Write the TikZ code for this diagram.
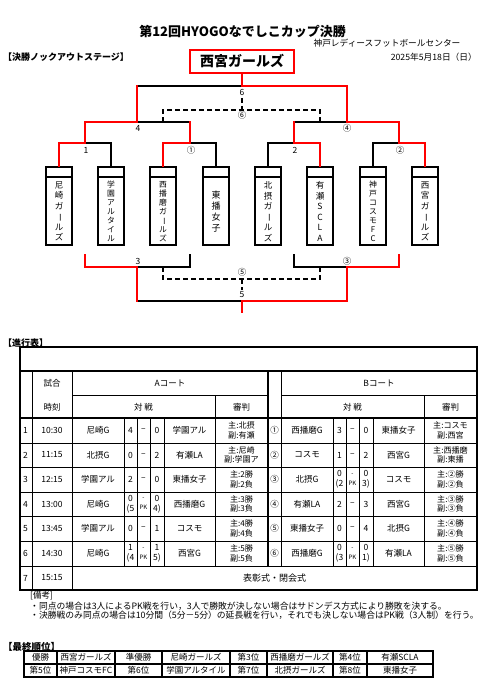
\documentclass[tikz,border=0pt]{standalone}
\usepackage{fontspec}
\setmainfont{Noto Sans CJK JP}
\usepackage{graphicx}
\usetikzlibrary{calc}
\newcommand\vbarj{\rotatebox[origin=c]{-90}{ー}}
\newcommand\pkf{\fontsize{6}{7}\selectfont}
% half row of the schedule table
\newcommand\half[9]{%
  \node[tc] (#1a) at (98+#2,#3) {#4};
  \node[tc] (#1b) at (130.5+#2,#3) {#5};
  \node[tc] (#1c) at (143.5+#2,#3) {#6};
  \node[tc] (#1d) at (157+#2,#3) {#7};
  \node[tc] (#1e) at (189.5+#2,#3) {#8};
  \node[rf] (#1f) at (241.5+#2,#3) {#9};
}
\begin{document}
\begin{tikzpicture}[x=1pt,y=-1pt,
  brk/.style={line width=2pt,line cap=rect,line join=miter},
  wl/.style={brk,red},
  ls/.style={brk,black},
  dsh/.style={line width=2pt,dash pattern=on 5pt off 3pt},
  teambox/.style={draw,line width=1.8pt,minimum width=26pt,minimum height=78pt,inner sep=0pt},
  tname/.style={inner sep=0pt,align=center},
  lbl/.style={inner sep=0pt,font=\fontsize{8.5}{10}\selectfont},
  tc/.style={inner sep=0pt,align=center,font=\fontsize{8.5}{10}\selectfont},
  rf/.style={inner sep=0pt,align=center,font=\fontsize{8.1}{9.3}\selectfont},
  tl/.style={line width=0.9pt},
  tk/.style={line width=1.8pt},
  txt/.style={inner sep=0pt,font=\fontsize{8.8}{10}\selectfont}
]
\useasboundingbox (0,0) rectangle (500,695);
\fill[white] (0,0) rectangle (500,695);

% ---------- heading ----------
\node[inner sep=0pt,font=\bfseries\fontsize{13}{16}\selectfont] (title) at (242.5,32) {第12回HYOGOなでしこカップ決勝};
\node[inner sep=0pt,font=\fontsize{8.7}{10}\selectfont] (venue) at (387,43) {神戸レディースフットボールセンター};
\node[inner sep=0pt,font=\fontsize{8.7}{10}\selectfont,anchor=east] (date) at (477,57) {2025年5月18日（日）};
\node[inner sep=0pt,font=\bfseries\fontsize{9}{10}\selectfont,anchor=west] (ko) at (3,57) {【決勝ノックアウトステージ】};
\node[draw=red,line width=2pt,minimum width=104pt,minimum height=23pt,inner sep=0pt,font=\bfseries\fontsize{14}{16}\selectfont] (champ) at (242,61.5) {西宮ガールズ};

% ---------- team boxes ----------
\foreach \i/\x in {1/59,2/111,3/163,4/216,5/268,6/320,7/373,8/425} {
  \node[teambox] (t\i) at (\x,206) {};
  \draw[line width=1.5pt] ([yshift=-11pt]t\i.north west) -- ([yshift=-11pt]t\i.north east);
}
\node[tname,font=\fontsize{8.5}{10.5}\selectfont] (n1) at (59,211.5) {尼\\崎\\ガ\\\vbarj\\ル\\ズ};
\node[tname,font=\fontsize{7.8}{9}\selectfont] (n2) at (111,211.5) {学\\園\\ア\\ル\\タ\\イ\\ル};
\node[tname,font=\fontsize{7.8}{9}\selectfont] (n3) at (163,211.5) {西\\播\\磨\\ガ\\\vbarj\\ル\\ズ};
\node[tname,font=\fontsize{9}{11}\selectfont] (n4) at (216,211.5) {東\\播\\女\\子};
\node[tname,font=\fontsize{8.5}{10.5}\selectfont] (n5) at (268,211.5) {北\\摂\\ガ\\\vbarj\\ル\\ズ};
\node[tname,font=\fontsize{8.5}{10.5}\selectfont] (n6) at (320,211.5) {有\\瀬\\S\\C\\L\\A};
\node[tname,font=\fontsize{7.8}{9}\selectfont] (n7) at (373,211.5) {神\\戸\\コ\\ス\\モ\\F\\C};
\node[tname,font=\fontsize{8.5}{10.5}\selectfont] (n8) at (425,211.5) {西\\宮\\ガ\\\vbarj\\ル\\ズ};

% ---------- bracket coordinates ----------
\coordinate (m1) at (85,143);
\coordinate (m1b) at (189.5,143);
\coordinate (m2) at (294,143);
\coordinate (m2b) at (399,143);
\coordinate (m4) at (137.25,122);
\coordinate (m4b) at (346.5,122);
\coordinate (m6) at (242,86);
\coordinate (d6) at (242,110);
\coordinate (d6t) at (242,98);
\coordinate (d6l) at (163.4,110);
\coordinate (d6r) at (320.25,110);
\coordinate (l1) at (85,255);
\coordinate (l1b) at (189.5,255);
\coordinate (l2) at (294,255);
\coordinate (l2b) at (399,255);
\coordinate (m3) at (137.25,267);
\coordinate (m3b) at (346.5,267);
\coordinate (m5) at (242,301);
\coordinate (d5) at (242,279);
\coordinate (d5b) at (242,290);
\coordinate (d5l) at (163.4,279);
\coordinate (d5r) at (320.25,279);
\coordinate (fin) at (242,312);

% black (losing) paths
\draw[ls] (t2.north) |- (m1);
\draw[ls] (t4.north) |- (m1b);
\draw[ls] (t5.north) |- (m2);
\draw[ls] (t7.north) |- (m2b);
\draw[ls] (m1b |- m4) -- (m4);
\draw[ls] (m2 |- m4b) -- (m4b);
\draw[ls] (m4 |- m6) -- (m6);
\draw[ls] (l1b) |- (m3);
\draw[ls] (l2) |- (m3b);
\draw[ls] (m3 |- m5) -- (m5);

% red (winning) paths
\draw[wl] (t1.north) |- (m1);
\draw[wl] (t3.north) |- (m1b);
\draw[wl] (t6.north) |- (m2);
\draw[wl] (t8.north) |- (m2b);
\draw[wl] (m1) |- (m4);
\draw[wl] (m1b) -- (m1b |- m4);
\draw[wl] (m2) -- (m2 |- m4b);
\draw[wl] (m2b) |- (m4b);
\draw[wl] (m4) -- (m4 |- m6);
\draw[wl] (m4b) |- (m6);
\draw[wl] (champ.south) -- (m6);
\draw[wl] (l1) |- (m3);
\draw[wl] (l2b) |- (m3b);
\draw[wl] (m3) -- (m3 |- m5);
\draw[wl] (m3b) |- (m5);
\draw[wl] (m5) -- (fin);

% dashed (3rd place / 7th place)
\draw[dsh] (d6l |- m4) -- (d6l) -- (d6r) -- (d6r |- m4);
\draw[dsh] (d6t) -- (d6);
\draw[dsh] (d5l |- m3) -- (d5l) -- (d5r) -- (d5r |- m3);
\draw[dsh] (d5) -- (d5b);

% match labels
\node[lbl] (L6) at (242,92.5) {6};
\node[lbl] (Lc6) at (242,115.5) {⑥};
\node[lbl] (L4) at (138,128) {4};
\node[lbl] (Lc4) at (347,128) {④};
\node[lbl] (L1) at (86,150) {1};
\node[lbl] (Lc1) at (191,150) {①};
\node[lbl] (L2) at (295,150) {2};
\node[lbl] (Lc2) at (400,150) {②};
\node[lbl] (L3) at (138,261) {3};
\node[lbl] (Lc3) at (347,261) {③};
\node[lbl] (Lc5) at (242,272) {⑤};
\node[lbl] (L5) at (242,295) {5};

% ---------- schedule table ----------
\node[inner sep=0pt,font=\bfseries\fontsize{9}{10}\selectfont,anchor=west] (sched) at (3,343) {【進行表】};
\draw[tk] (20,347) rectangle (477,590);
\draw[tk] (20,371) -- (477,371);
\draw[tk] (20,418) -- (477,418);
\foreach \y in {443,467,492,516,541,566} \draw[tl] (20,\y) -- (477,\y);
\draw[tl] (72,395) -- (268,395);
\draw[tl] (281,395) -- (477,395);
\draw[tl] (32,371) -- (32,590);
\draw[tl] (72,371) -- (72,590);
\foreach \x in {124,137,150,164,333,346,359,373} \draw[tl] (\x,418) -- (\x,566);
\draw[tl] (215,395) -- (215,566);
\draw[tl] (424,395) -- (424,566);
\draw[tk] (268,371) -- (268,566);
\draw[tl] (281,371) -- (281,566);

\node[tc] (h1) at (52,383) {試合};
\node[tc] (h2) at (52,407) {時刻};
\node[tc] (h3) at (170,383) {Aコート};
\node[tc] (h4) at (143.5,407) {対 戦};
\node[tc] (h5) at (241.5,407) {審判};
\node[tc] (h6) at (379,383) {Bコート};
\node[tc] (h7) at (352.5,407) {対 戦};
\node[tc] (h8) at (450.5,407) {審判};

% row 1
\node[tc,anchor=west] (no1) at (23,430.5) {1};
\node[tc] (tm1) at (52,430.5) {10:30};
\half{a1}{0}{430.5}{尼崎G}{4}{–}{0}{学園アル}{主:北摂\\副:有瀬}
\node[tc] (md1) at (274.5,430.5) {①};
\half{b1}{209}{430.5}{西播磨G}{3}{–}{0}{東播女子}{主:コスモ\\副:西宮}
% row 2
\node[tc,anchor=west] (no2) at (23,455) {2};
\node[tc] (tm2) at (52,455) {11:15};
\half{a2}{0}{455}{北摂G}{0}{–}{2}{有瀬LA}{主:尼崎\\副:学園ア}
\node[tc] (md2) at (274.5,455) {②};
\half{b2}{209}{455}{コスモ}{1}{–}{2}{西宮G}{主:西播磨\\副:東播}
% row 3
\node[tc,anchor=west] (no3) at (23,479.5) {3};
\node[tc] (tm3) at (52,479.5) {12:15};
\half{a3}{0}{479.5}{学園アル}{2}{–}{0}{東播女子}{主:2勝\\副:2負}
\node[tc] (md3) at (274.5,479.5) {③};
\half{b3}{209}{479.5}{北摂G}{0\\(2}{\pkf -\\\pkf PK}{0\\3)}{コスモ}{主:②勝\\副:②負}
% row 4
\node[tc,anchor=west] (no4) at (23,504) {4};
\node[tc] (tm4) at (52,504) {13:00};
\half{a4}{0}{504}{尼崎G}{0\\(5}{\pkf -\\\pkf PK}{0\\4)}{西播磨G}{主:3勝\\副:3負}
\node[tc] (md4) at (274.5,504) {④};
\half{b4}{209}{504}{有瀬LA}{2}{–}{3}{西宮G}{主:③勝\\副:③負}
% row 5
\node[tc,anchor=west] (no5) at (23,528.5) {5};
\node[tc] (tm5) at (52,528.5) {13:45};
\half{a5}{0}{528.5}{学園アル}{0}{–}{1}{コスモ}{主:4勝\\副:4負}
\node[tc] (md5) at (274.5,528.5) {⑤};
\half{b5}{209}{528.5}{東播女子}{0}{–}{4}{北摂G}{主:④勝\\副:④負}
% row 6
\node[tc,anchor=west] (no6) at (23,553.5) {6};
\node[tc] (tm6) at (52,553.5) {14:30};
\half{a6}{0}{553.5}{尼崎G}{1\\(4}{\pkf -\\\pkf PK}{1\\5)}{西宮G}{主:5勝\\副:5負}
\node[tc] (md6) at (274.5,553.5) {⑥};
\half{b6}{209}{553.5}{西播磨G}{0\\(3}{\pkf -\\\pkf PK}{0\\1)}{有瀬LA}{主:⑤勝\\副:⑤負}
% row 7
\node[tc,anchor=west] (no7) at (23,578) {7};
\node[tc] (tm7) at (52,578) {15:15};
\node[tc,font=\fontsize{9}{10}\selectfont] (cer) at (274.5,578) {表彰式・閉会式};

% ---------- remarks ----------
\node[txt,anchor=west,font=\fontsize{8.5}{10}\selectfont] (bk) at (30,596) {[備考]};
\node[txt,anchor=west] (bk1) at (30,606) {・同点の場合は3人によるPK戦を行い，3人で勝敗が決しない場合はサドンデス方式により勝敗を決する。};
\node[txt,anchor=west] (bk2) at (30,615.5) {・決勝戦のみ同点の場合は10分間（5分－5分）の延長戦を行い，それでも決しない場合はPK戦（3人制）を行う。};

% ---------- final ranking ----------
\node[inner sep=0pt,font=\bfseries\fontsize{9.5}{10}\selectfont,anchor=west] (rk) at (3,647) {【最終順位】};
\draw[tk] (24,651) rectangle (433,677);
\draw[line width=1.4pt] (24,664) -- (433,664);
\foreach \x in {57,115,162,230,267,333,367} \draw[line width=1.4pt] (\x,651) -- (\x,677);
\foreach \n/\x/\a/\b in {1/40.5/優勝/第5位, 2/86/西宮ガールズ/神戸コスモFC, 3/138.5/準優勝/第6位, 4/196/尼崎ガールズ/学園アルタイル, 5/248.5/第3位/第7位, 6/300/西播磨ガールズ/北摂ガールズ, 7/350/第4位/第8位, 8/400/有瀬SCLA/東播女子} {
  \node[tc] (ra\n) at (\x,657.5) {\a};
  \node[tc] (rb\n) at (\x,670.5) {\b};
}
\end{tikzpicture}
\end{document}
